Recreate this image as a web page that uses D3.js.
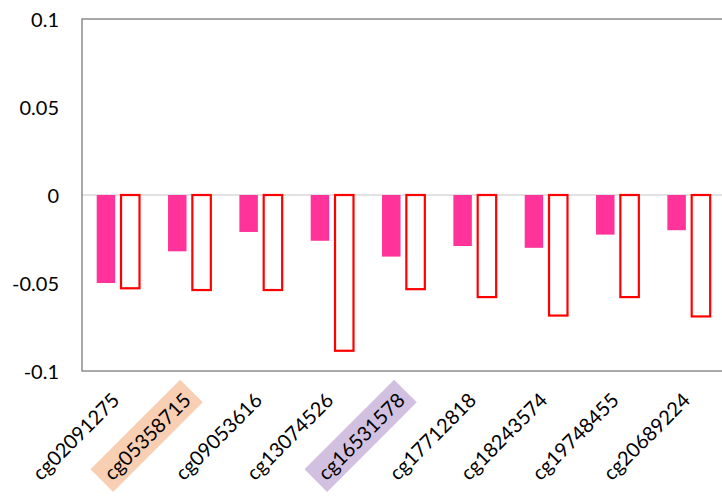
<!DOCTYPE html>
<html><head><meta charset="utf-8">
<script src="https://cdn.jsdelivr.net/npm/d3@7"></script>
<style>body{margin:0;background:#fff;} svg{display:block;}</style>
</head><body>
<svg id="chart" width="722" height="500"></svg>
<script>
const categories = ["cg02091275","cg05358715","cg09053616","cg13074526","cg16531578","cg17712818","cg18243574","cg19748455","cg20689224"];
const seriesNames = ["filled","outline"];
const filledValues = [-0.050,-0.032,-0.021,-0.026,-0.035,-0.029,-0.030,-0.0225,-0.020];
const outlineValues = [-0.053,-0.054,-0.054,-0.0885,-0.0535,-0.058,-0.0685,-0.058,-0.069];
const yTicks = [0.1,0.05,0,-0.05,-0.1];
const tickLabels = ["0.1","0.05","0","-0.05","-0.1"];
const highlights = {"cg05358715":"#F8CFB3","cg16531578":"#D2C0E0"};

(function(){
const svg = d3.select("#chart");
const pL = 82, pR = 724, pT = 19, pB = 371;
const x0 = d3.scaleBand().domain(categories).range([pL,pR]).padding(0);
const x1 = d3.scaleBand().domain(seriesNames).range([14.7,57.5]).paddingInner(0.24);
const y = d3.scaleLinear().domain([-0.1,0.1]).range([pB,pT]);

svg.append("line").attr("x1",pL).attr("x2",pR).attr("y1",y(0)).attr("y2",y(0))
  .attr("stroke","#d9d9d9").attr("stroke-width",1.5);

svg.append("rect").attr("x",pL).attr("y",pT).attr("width",pR-pL).attr("height",pB-pT)
  .attr("fill","none").attr("stroke","#8c8c8c").attr("stroke-width",1.5);

svg.append("g").selectAll("text").data(yTicks).join("text")
  .attr("x",59).attr("y",d=>y(d)).attr("text-anchor","end").attr("dominant-baseline","central")
  .attr("font-family","Lato, 'Open Sans', sans-serif").attr("font-size",20).attr("fill","#000")
  .text((d,i)=>tickLabels[i]);

const g = svg.append("g");
g.selectAll("rect.f").data(categories).join("rect").attr("class","f")
  .attr("x",(c)=>x0(c)+x1("filled")).attr("width",x1.bandwidth())
  .attr("y",(c,i)=>y(Math.max(0,filledValues[i]))).attr("height",(c,i)=>Math.abs(y(filledValues[i])-y(0)))
  .attr("fill","#FF3399");
g.selectAll("rect.o").data(categories).join("rect").attr("class","o")
  .attr("x",(c)=>x0(c)+x1("outline")).attr("width",x1.bandwidth())
  .attr("y",(c,i)=>y(Math.max(0,outlineValues[i]))).attr("height",(c,i)=>Math.abs(y(outlineValues[i])-y(0)))
  .attr("fill","#fff").attr("stroke","#FF0000").attr("stroke-width",2.2);

const lab = svg.append("g").selectAll("g").data(categories).join("g")
  .attr("transform",c=>`translate(${x0(c)+x0.bandwidth()/2-2.5},396) rotate(-45)`);
lab.each(function(c){
  const sel = d3.select(this);
  const t = sel.append("text").attr("text-anchor","end").attr("dominant-baseline","central")
    .attr("font-family","Lato, 'Open Sans', sans-serif").attr("font-size",20).attr("fill","#000").text(c);
  if (highlights[c]) {
    const bb = t.node().getBBox();
    sel.insert("rect","text").attr("x",bb.x-7).attr("y",-16).attr("width",bb.width+14).attr("height",32)
      .attr("fill",highlights[c]);
  }
});
})();
</script>
</body></html>
